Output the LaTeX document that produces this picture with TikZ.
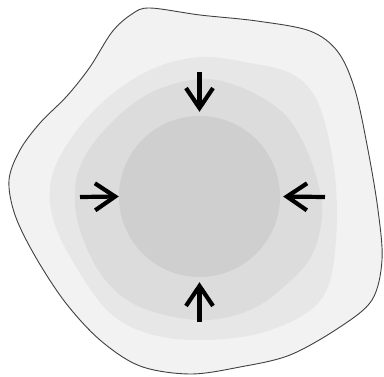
\documentclass[tikz,border=0pt]{standalone}
\usepackage{tikz}
\usetikzlibrary{arrows.meta}

\definecolor{shellgray}{HTML}{F2F2F2}
\definecolor{midgray}{HTML}{E7E7E7}
\definecolor{innergray}{HTML}{DCDCDC}
\definecolor{coregray}{HTML}{CFCFCF}

\begin{document}
\begin{tikzpicture}[x=1pt,y=-1pt]
    \tikzset{
    push/.style={
        line width=4.2pt,
        -{Straight Barb[length=20pt,width=27pt]},
        black
    }
}
        \useasboundingbox (0,0) rectangle (384,377);

        % outer cell
        \draw[fill=shellgray, draw=black!75, line width=0.9pt] plot[smooth cycle, tension=0.55] coordinates {
            (150,8) (200,15) (257,21) (310,31) (338,52) (355,90) (368,150)
            (378,210) (382,260) (372,300) (340,327) (290,355) (240,367) (190,374)
            (140,366) (100,340) (65,302) (35,256) (15,215) (9,180) (20,150)
            (40,123) (67,96) (90,67) (112,32) (132,14)};

        % middle layer
        \fill[midgray] plot[smooth cycle, tension=0.6] coordinates {
            (200,57) (250,63) (290,73) (314,95) (328,135) (336,187) (336,240)
            (328,287) (305,314) (257,334) (200,340) (150,334) (110,313)
            (78,270) (54,222) (51,180) (70,140) (105,100) (150,70)};

        % inner layer
        \fill[innergray] plot[smooth cycle, tension=0.6] coordinates {
            (200,79) (240,87) (280,110) (303,142) (318,183) (322,216)
            (312,255) (287,284) (250,310) (200,320) (140,307) (103,277)
            (80,230) (75,190) (84,158) (110,124) (150,93)};

        \node[circle, fill=coregray, minimum size=161pt, inner sep=0pt] (core) at (199.5,196.5) {};

        \coordinate (top) at (199.5,72);
        \coordinate (left) at (80,197);
        \coordinate (right) at (325,197);
        \coordinate (bottom) at (199.5,322);

        \draw [push, shorten >=4pt] (top) -- (core.north);
        \draw [push] (left) -- (core.west);
        \draw [push, shorten >=3pt] (right) -- (core.east);
        \draw [push, shorten >=5pt] (bottom) -- (core.south);
    \end{tikzpicture}
\end{document}
